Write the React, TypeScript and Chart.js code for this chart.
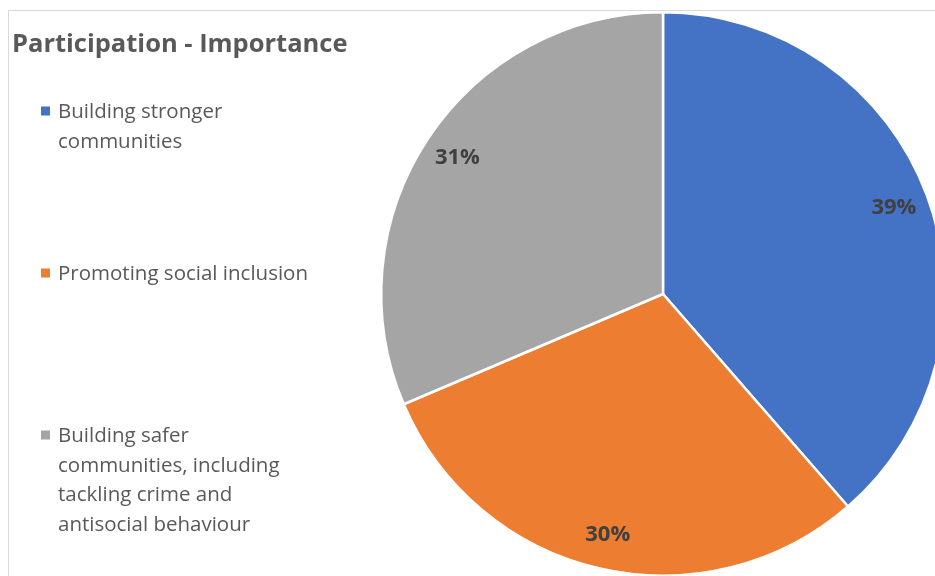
import { useEffect, useRef } from "react";
import { Chart, registerables } from "chart.js";

Chart.register(...registerables);

const chartTitle = "Participation - Importance";
const categories: string[][] = [
  ["Building stronger", "communities"],
  ["Promoting social inclusion"],
  ["Building safer", "communities, including", "tackling crime and", "antisocial behaviour"],
];
const values = [38.6, 30.0, 31.4];
const sliceColors = ["#4472C4", "#ED7D31", "#A5A5A5"];

const FONT = "'Open Sans', 'Noto Sans', sans-serif";

const overlayPlugin = {
  id: "overlay",
  afterDraw(chart: any) {
    const ctx: CanvasRenderingContext2D = chart.ctx;
    ctx.save();
    // Title
    ctx.fillStyle = "#595959";
    ctx.textAlign = "left";
    ctx.textBaseline = "alphabetic";
    ctx.font = `bold 25.5px ${FONT}`;
    ctx.fillText(chartTitle, 12, 52);

    // Legend
    const legendTop = 111;
    const slot = 162;
    const lineH = 29.5;
    ctx.font = `20.5px ${FONT}`;
    categories.forEach((lines, i) => {
      const cy = legendTop + i * slot;
      ctx.fillStyle = sliceColors[i];
      ctx.fillRect(41, cy - 4.5, 9, 9);
      ctx.fillStyle = "#595959";
      lines.forEach((ln, j) => {
        ctx.fillText(ln, 58, cy + 7 + j * lineH);
      });
    });

    // Data labels
    const meta = chart.getDatasetMeta(0);
    const total = values.reduce((a, b) => a + b, 0);
    ctx.font = `bold 22px ${FONT}`;
    ctx.fillStyle = "#404040";
    ctx.textAlign = "center";
    ctx.textBaseline = "middle";
    meta.data.forEach((arc: any, i: number) => {
      const p = arc.getProps(["x", "y", "startAngle", "endAngle", "outerRadius"], true);
      const mid = (p.startAngle + p.endAngle) / 2;
      const r = p.outerRadius * 0.875;
      const label = Math.round((values[i] / total) * 100) + "%";
      ctx.fillText(label, p.x + Math.cos(mid) * r, p.y + Math.sin(mid) * r);
    });
    ctx.restore();
  },
};

export default function App() {
  const ref = useRef<HTMLCanvasElement | null>(null);
  useEffect(() => {
    if (!ref.current) return;
    const chart = new Chart(ref.current, {
      type: "pie",
      data: {
        labels: categories,
        datasets: [
          {
            data: values,
            backgroundColor: sliceColors,
            borderColor: "#ffffff",
            borderWidth: 2.5,
          },
        ],
      },
      options: {
        animation: false,
        responsive: false,
        maintainAspectRatio: false,
        layout: { padding: { left: 380, right: 1000 - 380 - 566, top: 11, bottom: 600 - 11 - 566 } },
        plugins: {
          legend: { display: false },
          title: { display: false },
          tooltip: { enabled: false },
        },
      },
      plugins: [overlayPlugin],
    });
    return () => chart.destroy();
  }, []);

  return (
    <div style={{ position: "fixed", left: 0, top: 0, width: 935, height: 576, overflow: "hidden", background: "#fff" }}>
      <div
        style={{
          position: "absolute",
          left: 8,
          top: 10,
          width: 1000,
          height: 1000,
          borderTop: "1.5px solid #d9d9d9",
          borderLeft: "1.5px solid #d9d9d9",
        }}
      />
      <canvas ref={ref} width={1000} height={600} style={{ position: "absolute", left: 0, top: 0, width: 1000, height: 600 }} />
    </div>
  );
}
